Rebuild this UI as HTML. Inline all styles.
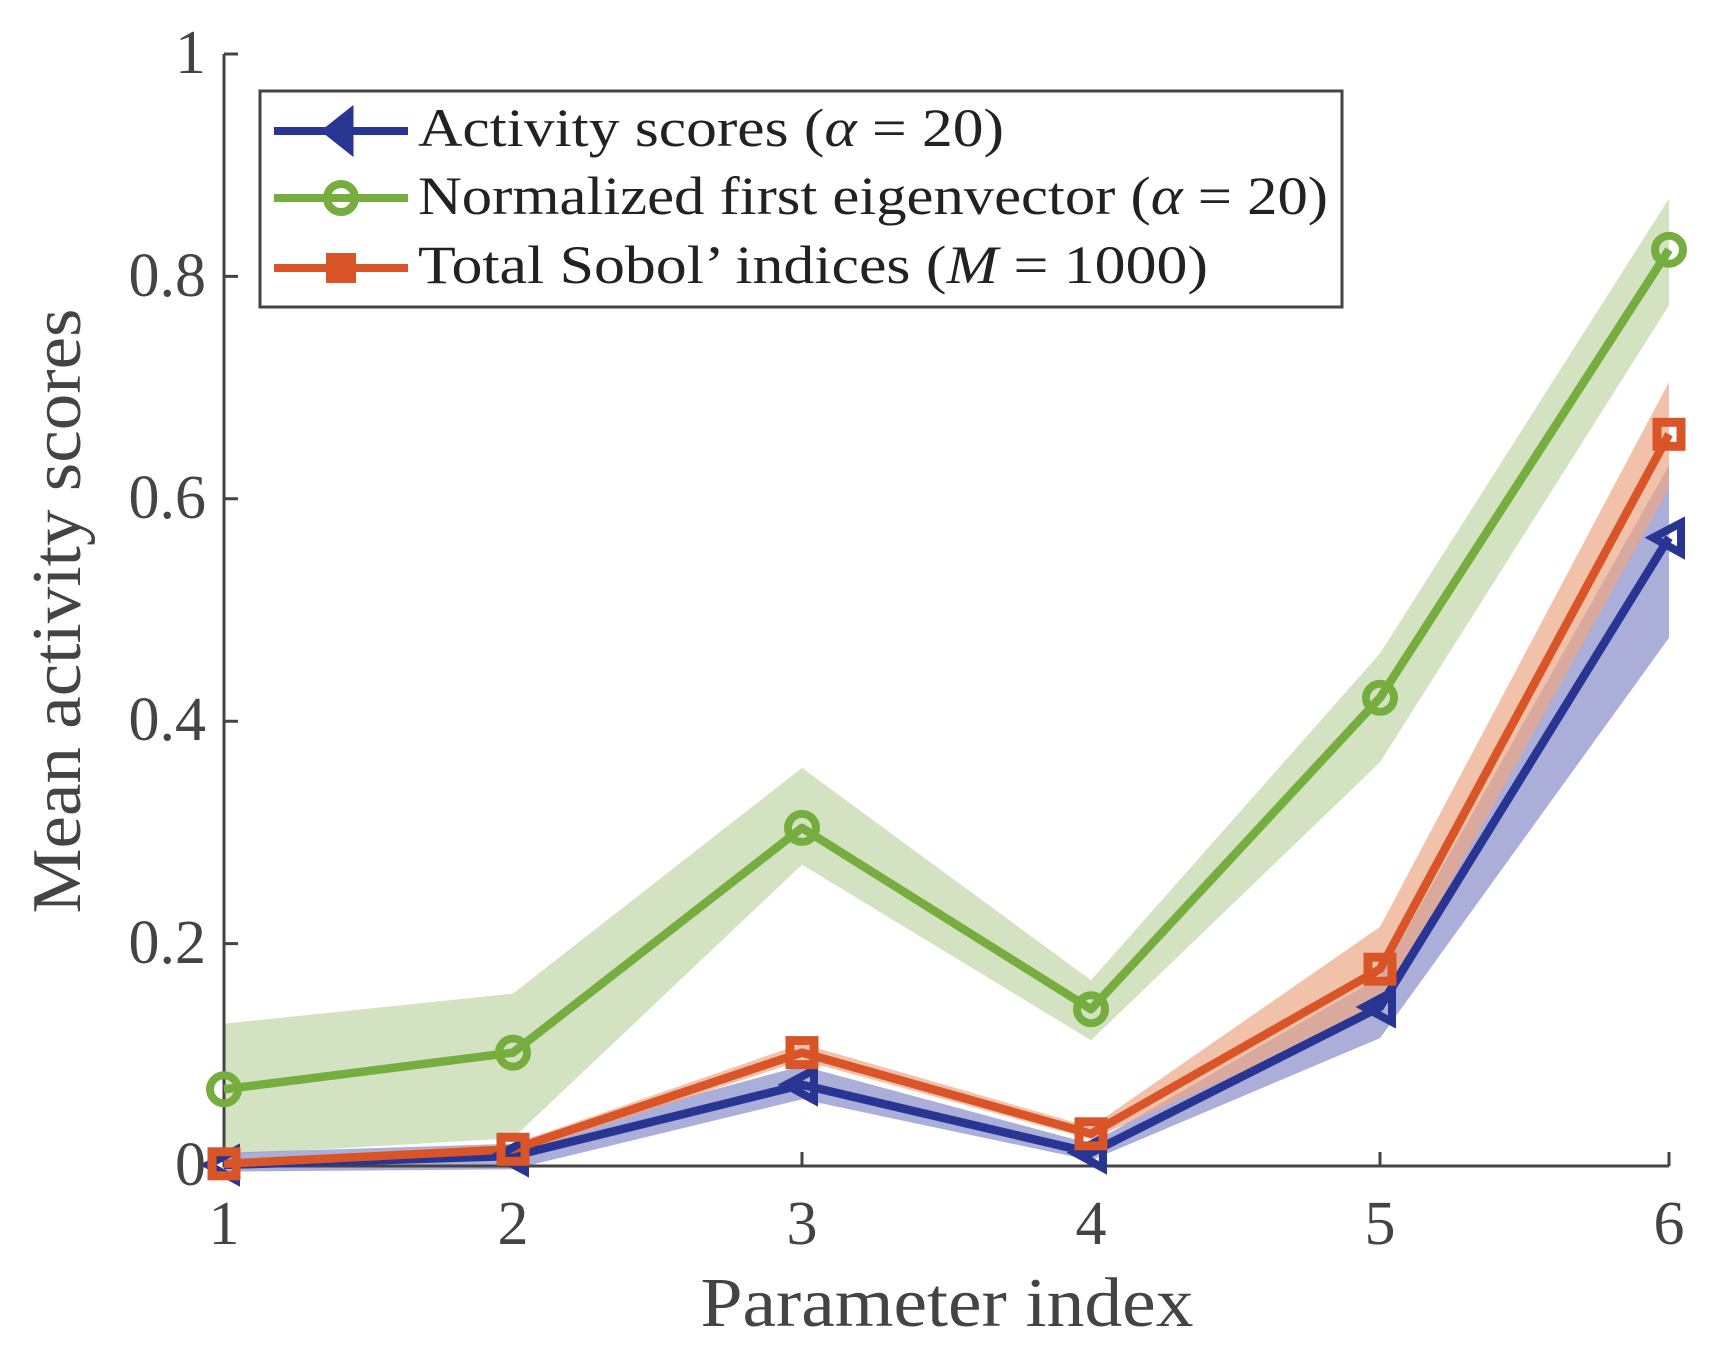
<!DOCTYPE html>
<html><head><meta charset="utf-8"><style>html,body{margin:0;padding:0;background:#fff}svg{display:block}</style></head>
<body>
<svg width="1726" height="1366" viewBox="0 0 1726 1366" xmlns="http://www.w3.org/2000/svg" font-family="Liberation Serif, serif">
<rect width="1726" height="1366" fill="#fff"/>
<polygon fill="#d3e2c0" points="224,1023.7 513,993.6 802,767.9 1091,980.3 1380,653.4 1669,198.6 1669,305.3 1380,762.3 1091,1040.3 802,864.6 513,1138.2 224,1154.9"/>
<polygon fill="#8f93cc" fill-opacity="0.75" points="224,1152.7 513,1143.8 802,1065.9 1091,1143.8 1380,977 1669,465.4 1669,637.8 1380,1038.1 1091,1160.4 802,1099.3 513,1169.3 224,1171.6"/>
<polygon fill="#eda785" fill-opacity="0.7" points="224,1160.4 513,1143.8 802,1043.7 1091,1127.1 1380,926.9 1669,382 1669,487.7 1380,1010.3 1091,1139.3 802,1060.4 513,1154.9 224,1166"/>
<g stroke="#444" stroke-width="3" fill="none">
<path d="M224,54 V1166 H1669"/>
<path d="M224,54 h14 M224,276.4 h14 M224,498.8 h14 M224,721.2 h14 M224,943.6 h14"/>
<path d="M513,1166 v-14 M802,1166 v-14 M1091,1166 v-14 M1380,1166 v-14 M1669,1166 v-14"/>
</g>
<g fill="none" stroke-width="8.5" stroke-linejoin="round">
<polyline stroke="#283593" points="224,1164.9 513,1156 802,1084.8 1091,1152.7 1380,1007 1669,537.7"/>
<polyline stroke="#76ad3f" points="224,1089.3 513,1052.6 802,827.9 1091,1009.2 1380,697.8 1669,249.7"/>
<polyline stroke="#d95427" points="224,1163.8 513,1149.3 802,1052.6 1091,1133.8 1380,969.2 1669,434.3"/>
</g>
<g fill="none" stroke="#283593" stroke-width="8">
<polygon points="208,1164.9 236,1150 236,1180"/>
<polygon points="497,1156 525,1141 525,1171"/>
<polygon points="786,1084.8 814,1070 814,1100"/>
<polygon points="1075,1152.7 1103,1138 1103,1168"/>
<polygon points="1364,1007 1392,992 1392,1022"/>
<polygon points="1653,537.7 1681,523 1681,553"/>
</g>
<g fill="none" stroke="#76ad3f" stroke-width="8">
<circle cx="224" cy="1089.3" r="14"/><circle cx="513" cy="1052.6" r="14"/><circle cx="802" cy="827.9" r="14"/>
<circle cx="1091" cy="1009.2" r="14"/><circle cx="1380" cy="697.8" r="14"/><circle cx="1669" cy="249.7" r="14"/>
</g>
<g fill="none" stroke="#d95427" stroke-width="9">
<rect x="212" y="1151.8" width="24" height="24"/><rect x="501" y="1137.3" width="24" height="24"/><rect x="790" y="1040.6" width="24" height="24"/>
<rect x="1079" y="1121.8" width="24" height="24"/><rect x="1368" y="957.2" width="24" height="24"/><rect x="1657" y="422.3" width="24" height="24"/>
</g>
<g fill="#444" font-size="62" text-anchor="end">
<text x="206" y="1185">0</text><text x="206" y="963">0.2</text><text x="206" y="740">0.4</text>
<text x="206" y="518">0.6</text><text x="206" y="296">0.8</text><text x="206" y="73">1</text>
</g>
<g fill="#444" font-size="62" text-anchor="middle">
<text x="224" y="1244">1</text><text x="513" y="1244">2</text><text x="802" y="1244">3</text>
<text x="1091" y="1244">4</text><text x="1380" y="1244">5</text><text x="1669" y="1244">6</text>
</g>
<text x="947" y="1326" fill="#444" font-size="70" text-anchor="middle" textLength="493" lengthAdjust="spacingAndGlyphs">Parameter index</text>
<text transform="translate(80,611) rotate(-90)" fill="#444" font-size="70" text-anchor="middle" textLength="605" lengthAdjust="spacingAndGlyphs">Mean activity scores</text>
<rect x="260" y="91" width="1082" height="216" fill="#fff" stroke="#444" stroke-width="3"/>
<g stroke-width="8">
<line x1="274" y1="131" x2="408" y2="131" stroke="#283593"/>
<polygon points="323,131 352,108 352,154" fill="#283593" stroke="#283593" stroke-width="3"/>
<line x1="274" y1="198" x2="408" y2="198" stroke="#76ad3f"/>
<circle cx="341" cy="198" r="14" fill="none" stroke="#76ad3f" stroke-width="8"/>
<line x1="274" y1="268" x2="408" y2="268" stroke="#d95427"/>
<rect x="326" y="253" width="30" height="30" fill="#d95427" stroke="none"/>
</g>
<g fill="#222" font-size="54">
<text x="418" y="146" textLength="586" lengthAdjust="spacingAndGlyphs">Activity scores (<tspan font-style="italic">α</tspan> = 20)</text>
<text x="418" y="214" textLength="910" lengthAdjust="spacingAndGlyphs">Normalized first eigenvector (<tspan font-style="italic">α</tspan> = 20)</text>
<text x="418" y="283" textLength="790" lengthAdjust="spacingAndGlyphs">Total Sobol’ indices (<tspan font-style="italic">M</tspan> = 1000)</text>
</g>
</svg>
</body></html>
